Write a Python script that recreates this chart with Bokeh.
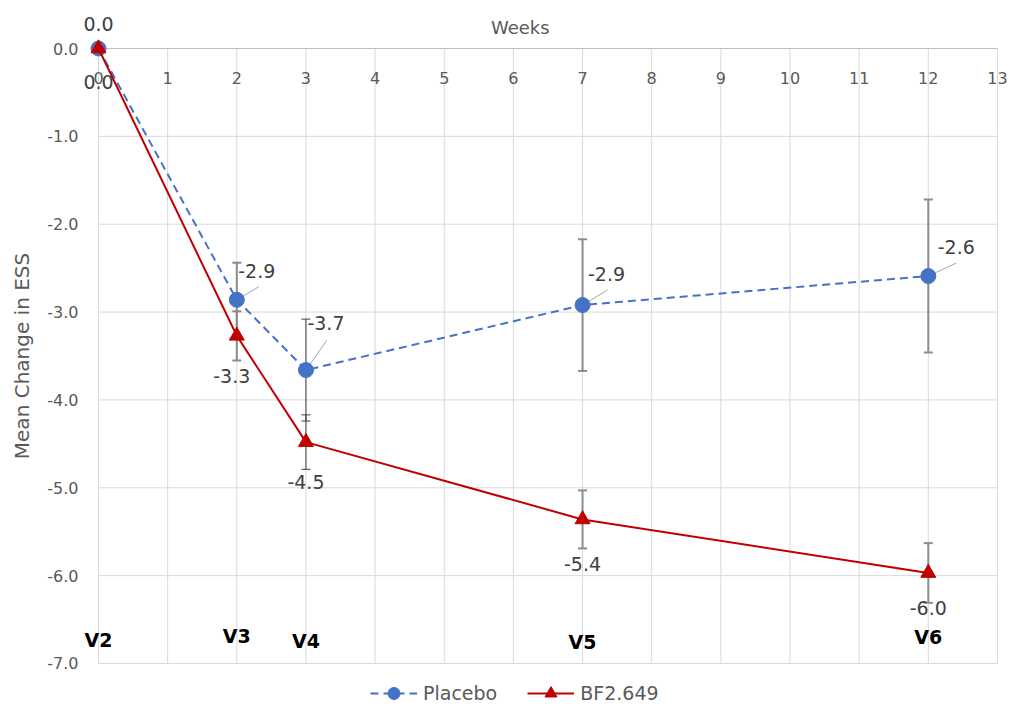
from bokeh.plotting import figure
from bokeh.models import ColumnDataSource, FixedTicker, NumeralTickFormatter, Range1d, Legend, LegendItem
from bokeh.core.properties import value
from bokeh.embed import file_html
from bokeh.resources import INLINE

# ---------------- data ----------------
weeks = [0, 2, 3, 7, 12]
visits = ["V2", "V3", "V4", "V5", "V6"]
placebo_mean = [0.0, -2.86, -3.66, -2.92, -2.59]
placebo_err = [0.0, 0.42, 0.58, 0.75, 0.87]
bf_mean = [0.0, -3.27, -4.48, -5.36, -5.97]
bf_err = [0.0, 0.28, 0.31, 0.33, 0.34]
week_ticks = list(range(0, 14))
y_ticks = [-7, -6, -5, -4, -3, -2, -1, 0]

# ---------------- styles ----------------
FONT = "DejaVu Sans"
GRAY_TXT = "#595959"
LBL_TXT = "#404040"
BLUE = "#4472C4"
RED = "#C00000"
GRID = "#d9d9d9"

W, H = 1011, 709
ORG = 0  # page offset of the plot
# frame in page pixels
FL, FR, FT, FB = 82, 1011, 2, 709
X0PX, PXW = 98.0, 69.15      # pixel of week 0, pixels per week
Y0PX, PXH = 48.0, 87.857     # pixel of 0.0, pixels per unit

x_start = (FL - X0PX) / PXW
x_end = (FR - X0PX) / PXW
y_end = (Y0PX - FT) / PXH
y_start = -(FB - Y0PX) / PXH

placebo_dx = [0, 20, 20, 24, 28]
placebo_dy = [-25, -29, -47, -31, -29]
bf_dx = [0, -5, 0, 0, 0]
bf_dy = [33, 40, 40, 45, 35]
leader_end = [None, (22, -13), (21, -30), (25, -15), (28, -13)]
err_color = [None, "#8c8c8c", "#3f3f3f", "#8c8c8c", "#8c8c8c"]
err_width = [0, 2, 1, 2, 2]
visit_dy = [-23, -27, -22, -21, -26]

p = figure(width=W, height=H, output_backend="svg", toolbar_location=None,
           title=None, x_axis_location=None, y_axis_location="left",
           x_range=Range1d(x_start, x_end), y_range=Range1d(y_start, y_end),
           min_border_left=FL - ORG, min_border_right=W - (FR - ORG),
           min_border_top=FT - ORG, min_border_bottom=H - (FB - ORG))
p.outline_line_color = None
p.xgrid.visible = False
p.ygrid.visible = False
p.background_fill_color = "white"

# y axis
ax = p.yaxis[0]
ax.ticker = FixedTicker(ticks=y_ticks)
ax.formatter = NumeralTickFormatter(format="0.0")
ax.axis_line_color = None
ax.major_tick_line_color = None
ax.minor_tick_line_color = None
ax.major_tick_out = 0
ax.major_tick_in = 0
ax.major_label_standoff = 4
ax.major_label_text_font = FONT
ax.major_label_text_font_size = "16px"
ax.major_label_text_color = GRAY_TXT
ax.axis_label = "Mean Change in ESS"
ax.axis_label_text_font = FONT
ax.axis_label_text_font_size = "20px"
ax.axis_label_text_font_style = "normal"
ax.axis_label_text_color = GRAY_TXT
ax.axis_label_standoff = 10

# gridlines (limited to the data area)
ymin, ymax = min(y_ticks), max(y_ticks)
xmin, xmax = min(week_ticks), max(week_ticks)
p.segment(x0=week_ticks, y0=[ymin] * len(week_ticks), x1=week_ticks, y1=[ymax] * len(week_ticks),
          line_color=GRID, line_width=1, level="underlay")
hy = [t for t in y_ticks if t != 0]
p.segment(x0=[xmin] * len(hy), y0=hy, x1=[xmax] * len(hy), y1=hy,
          line_color=GRID, line_width=1, level="underlay")
p.segment(x0=[xmin], y0=[0], x1=[xmax], y1=[0], line_color="#bfbfbf", line_width=1, level="underlay")

# week tick labels (top axis, labels below the line) and title
p.text(x=week_ticks, y=[0] * len(week_ticks), text=[str(w) for w in week_ticks],
       y_offset=29, text_align="center", text_baseline="middle",
       text_font=value(FONT), text_font_size="16px", text_color=GRAY_TXT)
p.text(x=[6.1], y=[0], text=["Weeks"], y_offset=-21, text_align="center", text_baseline="middle",
       text_font=value(FONT), text_font_size="18px", text_color=GRAY_TXT)

# error bars
def errbars(mean, err):
    idx = [i for i in range(len(weeks)) if err[i] > 0]
    src = ColumnDataSource(dict(
        x=[weeks[i] for i in idx],
        lo=[mean[i] - err[i] for i in idx],
        hi=[mean[i] + err[i] for i in idx],
        c=[err_color[i] for i in idx],
        w=[err_width[i] for i in idx]))
    p.segment(x0="x", y0="lo", x1="x", y1="hi", line_color="c", line_width="w", source=src)
    p.scatter(x="x", y="lo", marker="dash", size=9, line_color="c", line_width="w", source=src)
    p.scatter(x="x", y="hi", marker="dash", size=9, line_color="c", line_width="w", source=src)

errbars(placebo_mean, placebo_err)
errbars(bf_mean, bf_err)

# leader lines for placebo labels
lx0, ly0, lx1, ly1 = [], [], [], []
for i, e in enumerate(leader_end):
    if e is None:
        continue
    lx0.append(weeks[i]); ly0.append(placebo_mean[i])
    lx1.append(weeks[i] + e[0] / PXW); ly1.append(placebo_mean[i] - e[1] / PXH)
p.segment(x0=lx0, y0=ly0, x1=lx1, y1=ly1, line_color="#a6a6a6", line_width=1)

# series
pl_line = p.line(weeks, placebo_mean, line_color=BLUE, line_width=2, line_dash="8 5")
pl_pts = p.scatter(weeks, placebo_mean, marker="circle", size=15, fill_color=BLUE, line_color=BLUE)
bf_line = p.line(weeks, bf_mean, line_color=RED, line_width=2)
bf_pts = p.scatter(weeks, bf_mean, marker="triangle", size=15, fill_color=RED, line_color=RED)

# data labels
p.text(x=weeks, y=placebo_mean, text=[f"{v:.1f}" for v in placebo_mean],
       x_offset=placebo_dx, y_offset=placebo_dy, text_align="center", text_baseline="middle",
       text_font=value(FONT), text_font_size="19px", text_color=LBL_TXT)
p.text(x=weeks, y=bf_mean, text=[f"{v:.1f}" for v in bf_mean],
       x_offset=bf_dx, y_offset=bf_dy, text_align="center", text_baseline="middle",
       text_font=value(FONT), text_font_size="19px", text_color=LBL_TXT)

# visit labels
p.text(x=weeks, y=[ymin] * len(weeks), text=visits, y_offset=visit_dy,
       text_align="center", text_baseline="middle",
       text_font=value(FONT), text_font_size="19px", text_font_style="bold", text_color="#000000")

legend = Legend(items=[LegendItem(label="Placebo", renderers=[pl_line, pl_pts]),
                       LegendItem(label="BF2.649", renderers=[bf_line, bf_pts])],
                orientation="horizontal", location=(370 - FL, 1),
                padding=0, margin=0, spacing=30, glyph_width=47, glyph_height=30,
                label_standoff=6, label_text_font=FONT, label_text_font_size="19px",
                label_text_color=GRAY_TXT, border_line_color=None, background_fill_alpha=0)
p.add_layout(legend, "center")

open("out.html", "w").write(file_html(p, INLINE))
